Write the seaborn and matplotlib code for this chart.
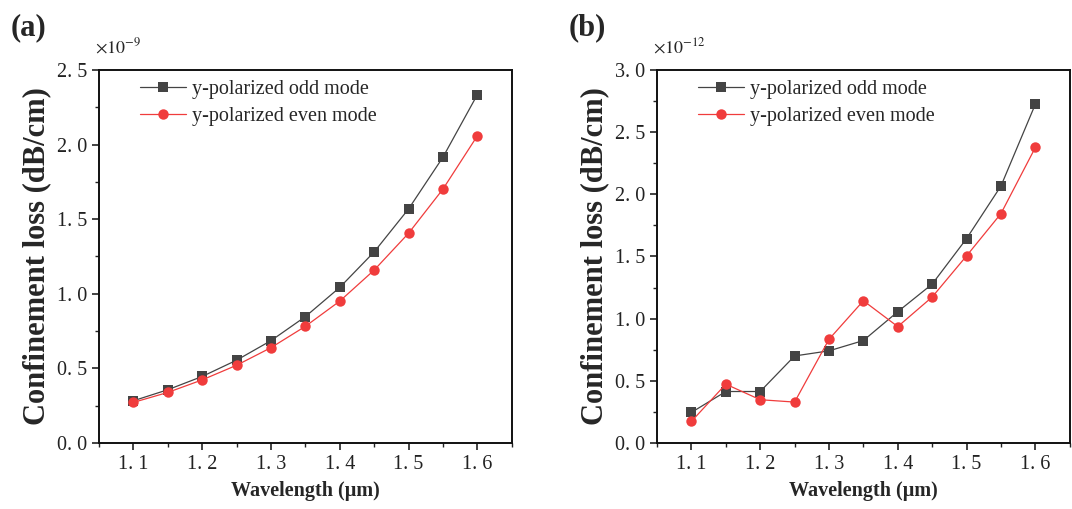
import numpy as np
import pandas as pd
import matplotlib
matplotlib.use("Agg")
import matplotlib.pyplot as plt
import seaborn as sns
from matplotlib.ticker import MultipleLocator

sns.set_style("ticks")
plt.rcParams['font.family'] = ['Liberation Serif', 'DejaVu Serif']
plt.rcParams['mathtext.fontset'] = 'stix'

# ---- data ----
wavelength = [1.10, 1.15, 1.20, 1.25, 1.30, 1.35, 1.40, 1.45, 1.50, 1.55, 1.60]

# panel (a), units of 1e-9 dB/cm
odd_a  = [0.283, 0.357, 0.446, 0.555, 0.686, 0.847, 1.043, 1.281, 1.569, 1.916, 2.335]
even_a = [0.272, 0.339, 0.423, 0.521, 0.639, 0.782, 0.951, 1.159, 1.406, 1.702, 2.059]

# panel (b), units of 1e-12 dB/cm
odd_b  = [0.246, 0.414, 0.414, 0.700, 0.741, 0.824, 1.056, 1.278, 1.644, 2.067, 2.725]
even_b = [0.174, 0.473, 0.348, 0.329, 0.834, 1.144, 0.936, 1.174, 1.505, 1.845, 2.377]

series_names = ["y-polarized odd mode", "y-polarized even mode"]
xticks = [1.1, 1.2, 1.3, 1.4, 1.5, 1.6]
yticks_a = [0.0, 0.5, 1.0, 1.5, 2.0, 2.5]
yticks_b = [0.0, 0.5, 1.0, 1.5, 2.0, 2.5, 3.0]

ODD_COLOR = "#444444"
EVEN_COLOR = "#f03c3c"

fig = plt.figure(figsize=(10.72, 5.09), dpi=100)
ax_a = fig.add_axes([0.0924, 0.1297, 0.385, 0.7328])
ax_b = fig.add_axes([0.6129, 0.1297, 0.385, 0.7328])


def spaced(v):
    return f"{v:.1f}".replace(".", ". ")


def draw_panel(ax, odd, even, yticks, exponent, panel, panel_x):
    sns.lineplot(x=wavelength, y=odd, ax=ax, color=ODD_COLOR, marker="s",
                 markersize=7, markeredgewidth=0, linewidth=0.9,
                 label=series_names[0])
    sns.lineplot(x=wavelength, y=even, ax=ax, color=EVEN_COLOR, marker="o",
                 markersize=7.5, markeredgewidth=0, linewidth=0.9,
                 label=series_names[1])

    ax.set_xlim(1.05, 1.65)
    ax.set_ylim(yticks[0], yticks[-1])
    ax.set_xticks(xticks)
    ax.set_xticklabels([spaced(v) for v in xticks], fontsize=14.5)
    ax.set_yticks(yticks)
    ax.set_yticklabels([spaced(v) for v in yticks], fontsize=14.5)
    ax.xaxis.set_minor_locator(MultipleLocator(0.05))
    ax.yaxis.set_minor_locator(MultipleLocator(0.25))
    ax.tick_params(which="major", direction="out", length=5, width=1.2,
                   colors="#222222", top=False, right=False)
    ax.tick_params(which="minor", direction="out", length=3, width=1.0,
                   colors="#222222", top=False, right=False)
    for sp in ax.spines.values():
        sp.set_visible(True)
        sp.set_linewidth(1.4)
        sp.set_color("#111111")

    ax.set_xlabel("Wavelength (μm)", fontsize=14.5, fontweight="bold", labelpad=5)
    ax.set_ylabel("Confinement loss (dB/cm)", fontsize=22, fontweight="bold",
                  labelpad=4)

    ax.legend(loc="upper left", bbox_to_anchor=(0.065, 1.01), frameon=False,
              fontsize=14.5, handlelength=2.3, handletextpad=0.3,
              labelspacing=0.38, borderaxespad=0.3)

    ax.text(-0.01, 1.035, r"$\times10^{%d}$" % exponent, transform=ax.transAxes,
            fontsize=13, ha="left", va="bottom")
    fig.text(panel_x, 0.945, panel, fontsize=22, fontweight="bold",
             ha="left", va="center")


draw_panel(ax_a, odd_a, even_a, yticks_a, -9, "(a)", 0.010)
draw_panel(ax_b, odd_b, even_b, yticks_b, -12, "(b)", 0.530)

fig.savefig("out.png", dpi=100)
